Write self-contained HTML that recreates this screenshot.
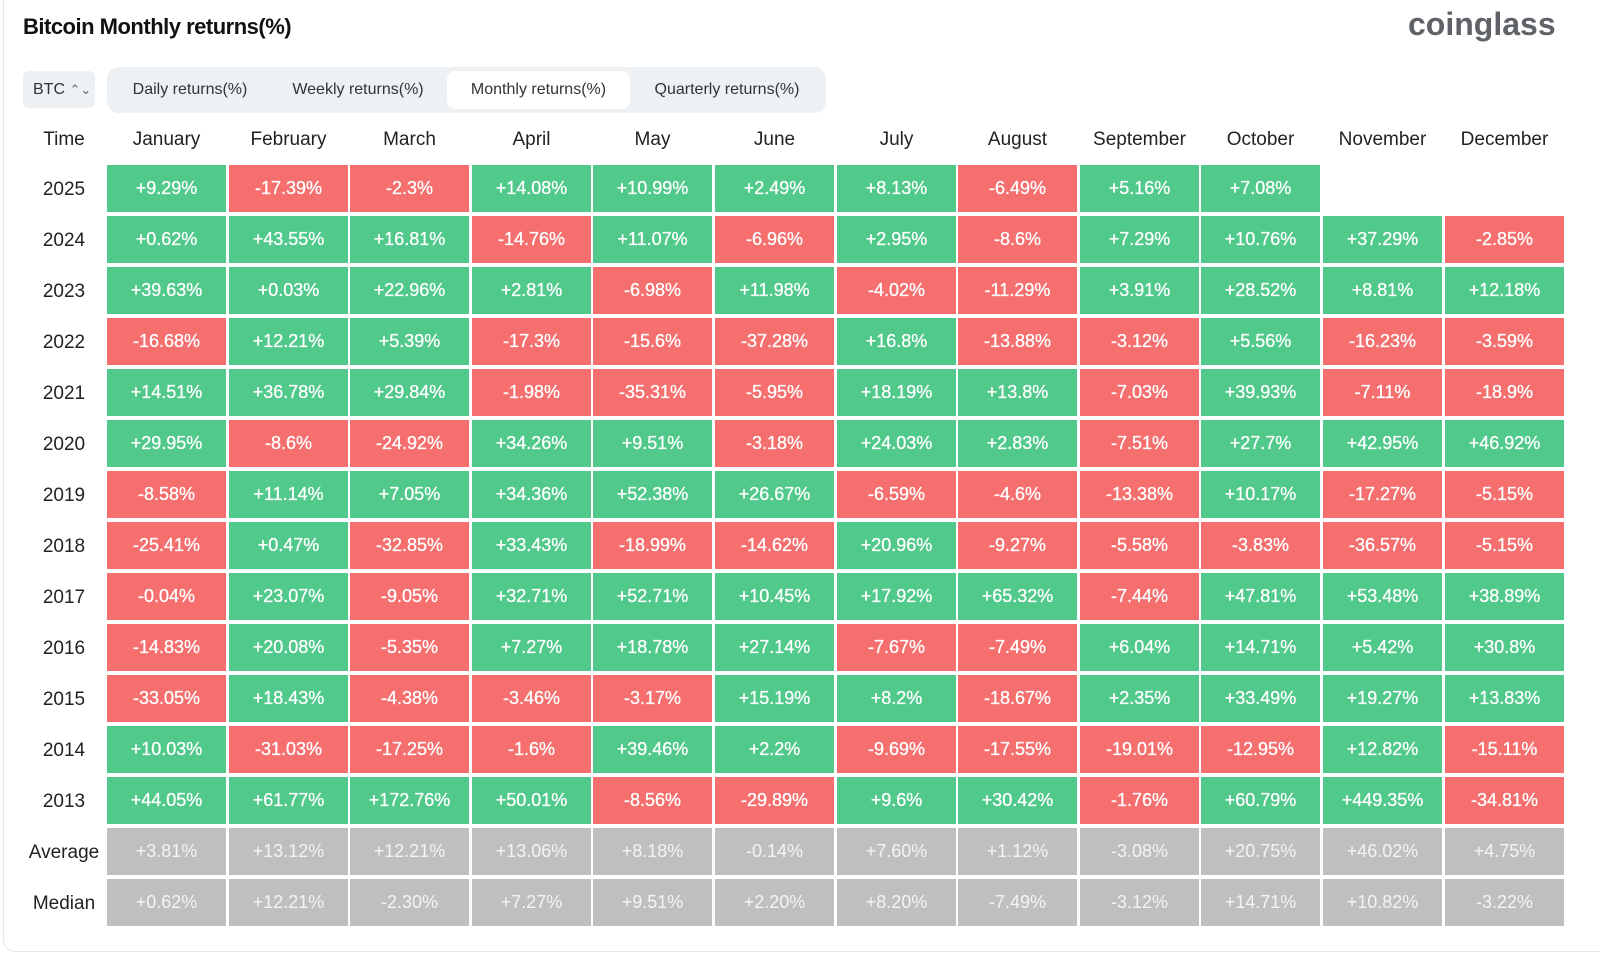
<!DOCTYPE html>
<html><head><meta charset="utf-8"><style>
*{margin:0;padding:0;box-sizing:border-box}
body{width:1600px;height:953px;background:#fff;font-family:"Liberation Sans","DejaVu Sans",sans-serif;position:relative;overflow:hidden;color:#222}
.card{position:absolute;left:3px;top:-10px;width:1640px;height:962px;border:1px solid #e6e8eb;border-radius:12px}
.title{position:absolute;left:23px;top:14px;font-size:22px;font-weight:bold;color:#111;letter-spacing:-0.5px}
.logo{position:absolute;left:1408px;top:6px;font-size:32px;font-weight:bold;color:#5f6368;letter-spacing:0px}
.btc{position:absolute;left:23px;top:71px;width:72px;height:37px;background:#eef1f4;border-radius:6px;font-size:16px;line-height:37px;padding-left:10px;color:#333}
.tabs{position:absolute;left:107px;top:67px;width:719px;height:46px;background:#eef1f4;border-radius:12px}
.tab{position:absolute;top:4px;height:38px;line-height:38px;font-size:16px;color:#333;text-align:center}
.tab.on{background:#fff;border-radius:8px}
.hd{position:absolute;top:129px;font-size:19px;color:#222;text-align:center;width:119px}
.rl{position:absolute;left:14px;width:100px;text-align:center;font-size:19px;color:#222}
.c{position:absolute;width:119px;height:47px;line-height:47px;text-align:center;color:#fff;font-size:18px;-webkit-text-stroke:0.3px #fff}
.g{background:#50c98b}.r{background:#f66f6f}.a{background:#bfbfbf;color:#f4f4f4;-webkit-text-stroke:0}
</style></head><body>
<div class="card"></div>
<div class="title">Bitcoin Monthly returns(%)</div>
<div class="logo">coinglass</div>
<div class="btc">BTC <span style="font-size:13px;color:#666">⌃⌄</span></div>
<div class="tabs">
<div class="tab" style="left:8px;width:150px">Daily returns(%)</div>
<div class="tab" style="left:166px;width:170px">Weekly returns(%)</div>
<div class="tab on" style="left:340px;width:183px">Monthly returns(%)</div>
<div class="tab" style="left:527px;width:186px">Quarterly returns(%)</div>
</div>
<div id="t"></div>
<script>
var months=["January","February","March","April","May","June","July","August","September","October","November","December"];
var rows=[
["2025","+9.29%","-17.39%","-2.3%","+14.08%","+10.99%","+2.49%","+8.13%","-6.49%","+5.16%","+7.08%","",""],
["2024","+0.62%","+43.55%","+16.81%","-14.76%","+11.07%","-6.96%","+2.95%","-8.6%","+7.29%","+10.76%","+37.29%","-2.85%"],
["2023","+39.63%","+0.03%","+22.96%","+2.81%","-6.98%","+11.98%","-4.02%","-11.29%","+3.91%","+28.52%","+8.81%","+12.18%"],
["2022","-16.68%","+12.21%","+5.39%","-17.3%","-15.6%","-37.28%","+16.8%","-13.88%","-3.12%","+5.56%","-16.23%","-3.59%"],
["2021","+14.51%","+36.78%","+29.84%","-1.98%","-35.31%","-5.95%","+18.19%","+13.8%","-7.03%","+39.93%","-7.11%","-18.9%"],
["2020","+29.95%","-8.6%","-24.92%","+34.26%","+9.51%","-3.18%","+24.03%","+2.83%","-7.51%","+27.7%","+42.95%","+46.92%"],
["2019","-8.58%","+11.14%","+7.05%","+34.36%","+52.38%","+26.67%","-6.59%","-4.6%","-13.38%","+10.17%","-17.27%","-5.15%"],
["2018","-25.41%","+0.47%","-32.85%","+33.43%","-18.99%","-14.62%","+20.96%","-9.27%","-5.58%","-3.83%","-36.57%","-5.15%"],
["2017","-0.04%","+23.07%","-9.05%","+32.71%","+52.71%","+10.45%","+17.92%","+65.32%","-7.44%","+47.81%","+53.48%","+38.89%"],
["2016","-14.83%","+20.08%","-5.35%","+7.27%","+18.78%","+27.14%","-7.67%","-7.49%","+6.04%","+14.71%","+5.42%","+30.8%"],
["2015","-33.05%","+18.43%","-4.38%","-3.46%","-3.17%","+15.19%","+8.2%","-18.67%","+2.35%","+33.49%","+19.27%","+13.83%"],
["2014","+10.03%","-31.03%","-17.25%","-1.6%","+39.46%","+2.2%","-9.69%","-17.55%","-19.01%","-12.95%","+12.82%","-15.11%"],
["2013","+44.05%","+61.77%","+172.76%","+50.01%","-8.56%","-29.89%","+9.6%","+30.42%","-1.76%","+60.79%","+449.35%","-34.81%"],
["Average","+3.81%","+13.12%","+12.21%","+13.06%","+8.18%","-0.14%","+7.60%","+1.12%","-3.08%","+20.75%","+46.02%","+4.75%"],
["Median","+0.62%","+12.21%","-2.30%","+7.27%","+9.51%","+2.20%","+8.20%","-7.49%","-3.12%","+14.71%","+10.82%","-3.22%"]];
var h='<div class="rl" style="top:129px">Time</div>';
var X=function(j){return Math.round(107+j*121.6)};
months.forEach(function(m,j){h+='<div class="hd" style="left:'+X(j)+'px">'+m+'</div>'});
rows.forEach(function(r,i){var y=Math.round(165+i*51);
h+='<div class="rl" style="top:'+(y+14)+'px">'+r[0]+'</div>';
for(var j=0;j<12;j++){var v=r[j+1];if(!v)continue;var cl=i>=13?'a':(v[0]=='-'?'r':'g');
h+='<div class="c '+cl+'" style="left:'+X(j)+'px;top:'+y+'px">'+v+'</div>';}});
document.getElementById('t').innerHTML=h;
</script>
</body></html>
